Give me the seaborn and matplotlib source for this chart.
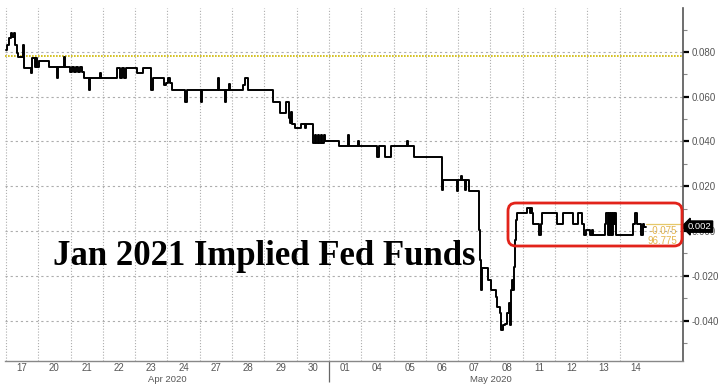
import matplotlib
matplotlib.use("Agg")
import matplotlib.pyplot as plt
import matplotlib.transforms as mtransforms
from matplotlib.patches import FancyBboxPatch
from matplotlib.ticker import FixedLocator, FuncFormatter, NullFormatter
import numpy as np
import pandas as pd
import seaborn as sns

# ---------------- data ----------------
day_labels = ["17", "20", "21", "22", "23", "24", "27", "28", "29", "30",
              "01", "04", "05", "06", "07", "08", "11", "12", "13", "14"]
month_labels = ["Apr 2020", "May 2020"]
month_centers = [5, 15]
month_boundary = [10]

# time in trading-day units since the open of 17 Apr, implied rate
t = [0.00, 0.03, 0.09, 0.15, 0.19, 0.25, 0.28, 0.34, 0.37, 0.53, 0.56, 0.77, 0.80,
     0.90, 0.93, 0.96, 1.02, 1.33, 1.58, 1.61, 1.80, 1.83, 1.98, 2.04, 2.11, 2.17,
     2.23, 2.29, 2.35, 2.41, 2.57, 2.60, 2.91, 2.94, 3.44, 3.53, 3.59, 3.65, 3.72,
     4.06, 4.24, 4.49, 4.55, 4.89, 4.95, 5.02, 5.08, 5.14, 5.54, 5.60, 6.04, 6.07,
     6.56, 6.59, 6.78, 6.81, 6.90, 6.93, 7.34, 7.40, 7.49, 8.27, 8.48, 8.67, 8.76,
     8.79, 8.82, 8.85, 8.95, 9.13, 9.26, 9.29, 9.50, 9.57, 9.60, 9.66, 9.69, 9.75,
     9.78, 9.85, 9.88, 10.31, 10.59, 10.62, 10.90, 10.93, 11.49, 11.55, 11.73, 11.92,
     12.41, 12.45, 12.63, 13.50, 13.53, 13.96, 13.99, 14.09, 14.12, 14.20, 14.24,
     14.33, 14.64, 14.67, 14.71, 14.74, 14.92, 15.02, 15.17, 15.20, 15.29, 15.33,
     15.39, 15.45, 15.51, 15.57, 15.60, 15.63, 15.67, 15.70, 15.73, 15.76, 15.79,
     15.82, 16.12, 16.22, 16.25, 16.29, 16.33, 16.51, 16.55, 16.58, 17.05, 17.23,
     17.57, 17.72, 17.82, 17.89, 17.96, 18.08, 18.13, 18.16, 18.55, 18.58, 18.65,
     18.68, 18.71, 18.74, 18.77, 18.80, 18.83, 18.86, 18.89, 19.42, 19.47, 19.53,
     19.65, 19.71, 19.75, 19.82]
rate = [0.0808, 0.0830, 0.0861, 0.0883, 0.0865, 0.0883, 0.0830, 0.0794, 0.0776, 0.0830,
        0.0727, 0.0705, 0.0772, 0.0731, 0.0772, 0.0731, 0.0758, 0.0731, 0.0682, 0.0731,
        0.0776, 0.0731, 0.0709, 0.0731, 0.0709, 0.0731, 0.0709, 0.0731, 0.0709, 0.0682,
        0.0629, 0.0682, 0.0705, 0.0682, 0.0727, 0.0682, 0.0727, 0.0682, 0.0727, 0.0705,
        0.0727, 0.0629, 0.0682, 0.0651, 0.0660, 0.0682, 0.0660, 0.0629, 0.0575, 0.0629,
        0.0575, 0.0629, 0.0682, 0.0629, 0.0575, 0.0629, 0.0656, 0.0629, 0.0651, 0.0682,
        0.0629, 0.0575, 0.0526, 0.0575, 0.0504, 0.0482, 0.0531, 0.0477, 0.0459, 0.0477,
        0.0459, 0.0477, 0.0392, 0.0428, 0.0392, 0.0428, 0.0392, 0.0428, 0.0392, 0.0428,
        0.0401, 0.0379, 0.0428, 0.0379, 0.0401, 0.0379, 0.0330, 0.0379, 0.0330, 0.0379,
        0.0401, 0.0379, 0.0330, 0.0183, 0.0227, 0.0178, 0.0227, 0.0245, 0.0227, 0.0183,
        0.0227, 0.0178, 0.0004, -0.0129, -0.0263, -0.0165, -0.0219, -0.0263, -0.0294,
        -0.0339, -0.0366, -0.0442, -0.0419, -0.0415, -0.0366, -0.0321, -0.0419, -0.0263,
        -0.0219, -0.0263, -0.0161, -0.0040, 0.0049, 0.0080, 0.0103, 0.0080, 0.0103,
        0.0080, 0.0031, -0.0018, 0.0031, 0.0080, 0.0031, 0.0080, 0.0031, 0.0080, 0.0031,
        -0.0018, 0.0004, -0.0018, 0.0004, -0.0018, 0.0031, 0.0080, -0.0018, 0.0080,
        -0.0018, 0.0080, -0.0018, 0.0080, 0.0031, 0.0080, -0.0018, 0.0031, 0.0080,
        0.0031, -0.0018, 0.0031, 0.0020, 0.0020]

yellow_level = 0.0781
yellow_last = 0.0031
last_value = 0.002
last_label = "0.002"
side_labels = ["-0.075", "96.775"]
y_major = [-0.04, -0.02, 0.0, 0.02, 0.04, 0.06, 0.08]
y_minor = [-0.05, -0.03, -0.01, 0.01, 0.03, 0.05, 0.07, 0.09]
title = "Jan 2021 Implied Fed Funds"

# ---------------- plot ----------------
sns.set_theme(style="white")
plt.rcParams["font.family"] = ["Liberation Sans", "DejaVu Sans"]

W, H = 722, 389
fig = plt.figure(figsize=(W / 100, H / 100), dpi=100)
fig.patch.set_facecolor("white")
ax = fig.add_axes([5 / W, 28 / H, 678 / W, 353 / H])
ax.set_facecolor("white")

df = pd.DataFrame({"t": t, "rate": rate})
sns.lineplot(data=df, x="t", y="rate", ax=ax, color="black", linewidth=1.4,
             drawstyle="steps-post", estimator=None, sort=False, zorder=4)

ax.set_xlim(-0.03, 20.96)
ax.set_ylim(-0.0580, 0.0996)
ax.set_xlabel("")
ax.set_ylabel("")

grid_c = "#adadad"
for d in range(len(day_labels)):
    ax.axvline(d, color=grid_c, lw=0.8, ls=(0, (1.0, 1.6)), zorder=1)
for v in y_major:
    ax.axhline(v, color=grid_c, lw=0.8, ls=(0, (2.0, 2.6)), zorder=1)

ax.axhline(yellow_level, color="#cdb800", lw=1.2, ls=(0, (1.0, 0.8)), zorder=2)
ax.plot([t[-1], ax.get_xlim()[1]], [yellow_last, yellow_last], color="#e6c86a",
        lw=0.9, zorder=2)

# spines
for s in ["left", "top"]:
    ax.spines[s].set_visible(False)
ax.spines["right"].set_color("#555555")
ax.spines["right"].set_linewidth(1.2)
ax.spines["bottom"].set_color("#888888")
ax.spines["bottom"].set_linewidth(1.0)

# y axis on the right
ax.yaxis.tick_right()
ax.yaxis.set_major_locator(FixedLocator(y_major))
ax.yaxis.set_minor_locator(FixedLocator(y_minor))
ax.yaxis.set_major_formatter(FuncFormatter(lambda v, p: f"{abs(v):.3f}" if abs(v) < 1e-9 else f"{v:.3f}"))
ax.yaxis.set_minor_formatter(NullFormatter())
ax.tick_params(axis="y", which="major", direction="out", length=4, width=1.6,
               color="black", labelsize=7, labelcolor="#555555", pad=2,
               left=False, right=True)
ax.tick_params(axis="y", which="minor", direction="out", length=3, width=0.8,
               color="#888888", left=False, right=True)

# x axis
ax.xaxis.set_major_locator(FixedLocator(month_boundary))
ax.xaxis.set_major_formatter(NullFormatter())
ax.xaxis.set_minor_locator(FixedLocator([d + 0.5 for d in range(len(day_labels))]))
ax.xaxis.set_minor_formatter(FuncFormatter(lambda v, p: day_labels[int(v)] if 0 <= int(v) < len(day_labels) else ""))
ax.tick_params(axis="x", which="major", direction="out", length=15, width=0.9,
               color="#666666", bottom=True)
ax.tick_params(axis="x", which="minor", length=0, labelsize=7,
               labelcolor="#555555", pad=1.5, bottom=True)

bt = mtransforms.blended_transform_factory(ax.transData, ax.transAxes)
for lab, c in zip(month_labels, month_centers):
    ax.text(c, -0.053, lab, transform=bt, ha="center", va="center",
            fontsize=6.8, color="#555555")

# last value tag
rt = mtransforms.blended_transform_factory(ax.transAxes, ax.transData)
ax.text(1.007, last_value, last_label, transform=rt, ha="left", va="center",
        fontsize=6.8, color="white", zorder=10,
        bbox=dict(boxstyle="larrow,pad=0.12", fc="black", ec="black"))

# yellow side labels
fig.text(677 / W, 1 - 231 / H, side_labels[0], ha="right", va="center",
         fontsize=7, color="#e3b44c")
fig.text(677 / W, 1 - 241 / H, side_labels[1], ha="right", va="center",
         fontsize=7, color="#e3b44c")

# red highlight box
box = FancyBboxPatch((508 / 100, (H - 246) / 100), 174 / 100, 43 / 100,
                     boxstyle="round,pad=0,rounding_size=0.08",
                     transform=fig.dpi_scale_trans, fill=False,
                     ec="#e2231a", lw=2.0, zorder=20)
fig.add_artist(box)

# title
fig.text(53 / W, (H - 265) / H, title, ha="left", va="baseline",
         fontsize=25, fontweight="bold", family="Liberation Serif",
         color="black", zorder=15)

fig.savefig("out.png", dpi=100)
